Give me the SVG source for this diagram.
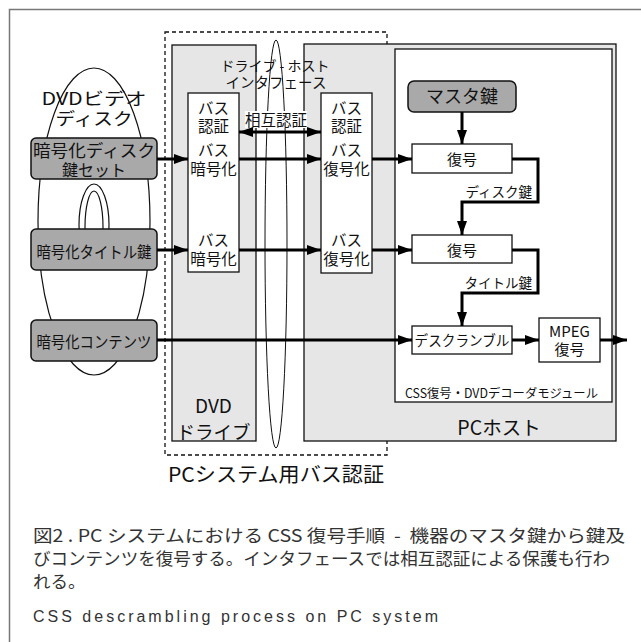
<svg xmlns="http://www.w3.org/2000/svg" width="641" height="642" viewBox="0 0 641 642">
<style>
text{font-family:"Noto Sans CJK JP","Liberation Sans",sans-serif;fill:#111;}
.c{text-anchor:middle;}
.box{fill:#fff;stroke:#111;stroke-width:1.3;}
.gray{fill:#e6e6e6;stroke:#111;stroke-width:1.3;}
.key{fill:#a9a9a9;stroke:#111;stroke-width:1.5;}
.ln{fill:none;stroke:#000;stroke-width:3;}
.cap{fill:#333;font-size:17.5px;}
</style>
<defs>
<marker id="ah" markerUnits="userSpaceOnUse" markerWidth="14" markerHeight="10" refX="14" refY="5" orient="auto-start-reverse">
<path d="M0,0 L14,5 L0,10 z" fill="#000"/>
</marker>
</defs>
<rect id="frame" x="9.5" y="9.5" width="640" height="640" fill="#fff" stroke="#777" stroke-width="1.5"/>
<g id="busauth">
<rect x="165" y="32" width="222" height="423" fill="none" stroke="#111" stroke-width="1.3" stroke-dasharray="4,3"/>
<text class="c" x="276" y="482" font-size="20" textLength="216" lengthAdjust="spacingAndGlyphs">PCシステム用バス認証</text>
</g>
<g id="drive">
<rect class="gray" x="172" y="45" width="84" height="396"/>
<text class="c" x="213.5" y="413" font-size="19">DVD</text>
<text class="c" x="213.5" y="439" font-size="18.5">ドライブ</text>
</g>
<g id="pchost">
<rect class="gray" x="304" y="44" width="312" height="397"/>
<text class="c" x="499" y="435" font-size="19.5">PCホスト</text>
</g>
<g id="module">
<rect class="box" x="395" y="49" width="217" height="353"/>
<text x="405" y="398" font-size="12.5" textLength="193" lengthAdjust="spacingAndGlyphs">CSS復号・DVDデコーダモジュール</text>
</g>
<g id="interface">
<ellipse cx="276" cy="244" rx="11" ry="204" fill="none" stroke="#111" stroke-width="1"/>
<text class="c" x="275" y="71" font-size="14">ドライブ - ホスト</text>
<text class="c" x="276" y="88" font-size="14.5">インタフェース</text>
</g>
<g id="drivebus">
<rect class="box" x="188" y="93" width="51" height="179"/>
<text class="c" x="213.5" y="114" font-size="15.5">バス</text>
<text class="c" x="213.5" y="132" font-size="15.5">認証</text>
<text class="c" x="213.5" y="156" font-size="15.5">バス</text>
<text class="c" x="213.5" y="175" font-size="15.5">暗号化</text>
<text class="c" x="213.5" y="246" font-size="15.5">バス</text>
<text class="c" x="213.5" y="265" font-size="15.5">暗号化</text>
</g>
<g id="hostbus">
<rect class="box" x="321" y="93" width="51" height="180"/>
<text class="c" x="346.5" y="114" font-size="15.5">バス</text>
<text class="c" x="346.5" y="132" font-size="15.5">認証</text>
<text class="c" x="346.5" y="156" font-size="15.5">バス</text>
<text class="c" x="346.5" y="175" font-size="15.5">復号化</text>
<text class="c" x="346.5" y="246" font-size="15.5">バス</text>
<text class="c" x="346.5" y="265" font-size="15.5">復号化</text>
</g>
<g id="mutual">
<rect x="245" y="111" width="62" height="17" fill="#fff"/>
<text class="c" x="276" y="126" font-size="15.5">相互認証</text>
</g>
<g id="disc">
<ellipse cx="94" cy="221.5" rx="56" ry="153.5" fill="#fff" stroke="#111" stroke-width="1.2"/>
<ellipse cx="94" cy="225" rx="15" ry="41" fill="none" stroke="#111" stroke-width="1.2"/>
<ellipse cx="94" cy="227" rx="9" ry="36" fill="none" stroke="#111" stroke-width="1.2"/>
<text class="c" x="94" y="105" font-size="17.5" textLength="105" lengthAdjust="spacingAndGlyphs">DVDビデオ</text>
<text class="c" x="94" y="125" font-size="17.5" textLength="77" lengthAdjust="spacingAndGlyphs">ディスク</text>
</g>
<g id="disckey">
<rect class="key" x="31" y="138" width="126" height="41" rx="5"/>
<text class="c" x="94" y="157" font-size="16.5" textLength="122" lengthAdjust="spacingAndGlyphs">暗号化ディスク</text>
<text class="c" x="94" y="176" font-size="16" textLength="64" lengthAdjust="spacingAndGlyphs">鍵セット</text>
</g>
<g id="titlekey">
<rect class="key" x="31" y="229" width="126" height="41" rx="5"/>
<text class="c" x="94" y="258" font-size="16" textLength="115" lengthAdjust="spacingAndGlyphs">暗号化タイトル鍵</text>
</g>
<g id="content">
<rect class="key" x="31" y="320" width="126" height="41" rx="5"/>
<text class="c" x="94" y="348" font-size="16" textLength="115" lengthAdjust="spacingAndGlyphs">暗号化コンテンツ</text>
</g>
<g id="masterkey">
<rect class="key" x="408" y="81" width="108" height="31" rx="6"/>
<text class="c" x="462" y="103" font-size="18">マスタ鍵</text>
</g>
<g id="decrypt1">
<rect class="box" x="412" y="144" width="100" height="29"/>
<text class="c" x="462" y="165" font-size="15">復号</text>
</g>
<g id="decrypt2">
<rect class="box" x="412" y="235" width="100" height="28"/>
<text class="c" x="462" y="256" font-size="15">復号</text>
</g>
<g id="descramble">
<rect class="box" x="412" y="326" width="100" height="28"/>
<text class="c" x="462" y="346" font-size="14.5" textLength="95" lengthAdjust="spacingAndGlyphs">デスクランブル</text>
</g>
<g id="mpeg">
<rect class="box" x="539" y="318" width="61" height="44"/>
<text class="c" x="569.5" y="337" font-size="15">MPEG</text>
<text class="c" x="569.5" y="355" font-size="15">復号</text>
</g>
<g id="connectors">
<line class="ln" x1="157" y1="159" x2="188" y2="159" marker-end="url(#ah)"/>
<line class="ln" x1="239" y1="159" x2="321" y2="159" marker-end="url(#ah)"/>
<line class="ln" x1="372" y1="159" x2="412" y2="159" marker-end="url(#ah)"/>
<line class="ln" x1="239" y1="132" x2="321" y2="132" marker-start="url(#ah)" marker-end="url(#ah)"/>
<line class="ln" x1="157" y1="250" x2="188" y2="250" marker-end="url(#ah)"/>
<line class="ln" x1="239" y1="250" x2="321" y2="250" marker-end="url(#ah)"/>
<line class="ln" x1="372" y1="250" x2="412" y2="250" marker-end="url(#ah)"/>
<line class="ln" x1="157" y1="340" x2="412" y2="340" marker-end="url(#ah)"/>
<line class="ln" x1="512" y1="340" x2="539" y2="340" marker-end="url(#ah)"/>
<line class="ln" x1="600" y1="340" x2="627" y2="340" marker-end="url(#ah)"/>
<line class="ln" x1="462" y1="112" x2="462" y2="144" marker-end="url(#ah)"/>
<polyline class="ln" points="512,159 538,159 538,202 462,202 462,235" marker-end="url(#ah)"/>
<polyline class="ln" points="512,250 538,250 538,293 462,293 462,326" marker-end="url(#ah)"/>
<text x="532" y="197" font-size="13.5" text-anchor="end">ディスク鍵</text>
<text x="532" y="288" font-size="13.5" text-anchor="end">タイトル鍵</text>
</g>
<g id="caption">
<text class="cap" x="33" y="542" textLength="592" lengthAdjust="spacingAndGlyphs">図2 . PC システムにおける CSS 復号手順&#160;&#160;-&#160;&#160;機器のマスタ鍵から鍵及</text>
<text class="cap" x="33" y="565" textLength="577" lengthAdjust="spacingAndGlyphs">びコンテンツを復号する。インタフェースでは相互認証による保護も行わ</text>
<text class="cap" x="33" y="588">れる。</text>
<text x="33" y="622" font-size="16" style="fill:#333;font-family:'Liberation Sans',sans-serif" textLength="405" lengthAdjust="spacing">CSS descrambling process on PC system</text>
</g>
</svg>
